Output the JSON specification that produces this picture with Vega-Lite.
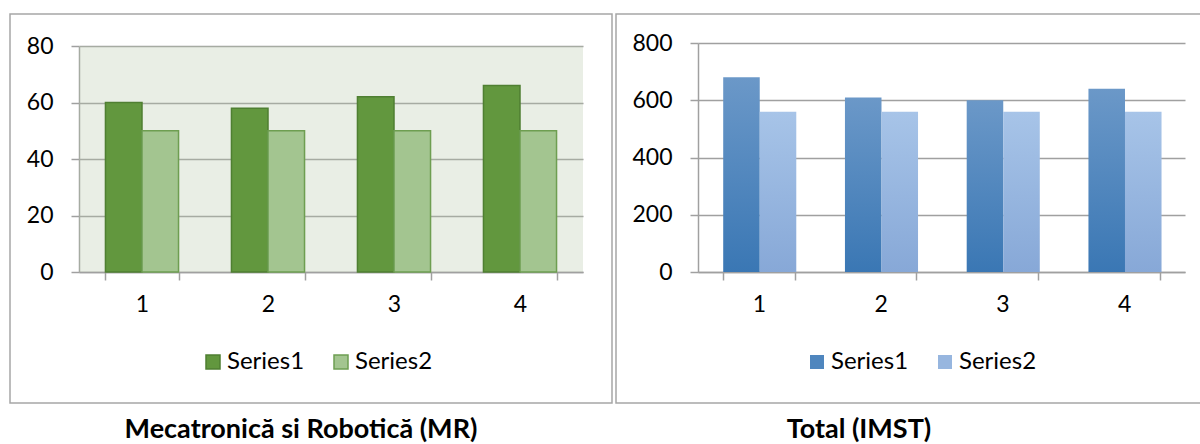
{
  "$schema": "https://vega.github.io/schema/vega-lite/v6.json",
  "padding": {"left": 9, "top": 13, "right": 0, "bottom": 0},
  "background": "white",
  "spacing": 2,
  "config": {
    "font": "Lato",
    "view": {"stroke": "#a6a6a6", "strokeWidth": 1.5},
    "axis": {
      "labelFont": "Lato", "labelFontSize": 23, "labelColor": "#000000",
      "domainColor": "#a0a0a0", "domainWidth": 1.5,
      "tickColor": "#a0a0a0", "tickWidth": 1.5, "tickSize": 8,
      "gridColor": "#a0a0a0", "gridWidth": 1.5
    },
    "legend": {
      "labelFont": "Lato", "labelFontSize": 24, "labelColor": "#000000",
      "symbolType": "square", "symbolSize": 196, "columnPadding": 24, "labelOffset": 2
    },
    "title": {"font": "Lato", "fontSize": 27, "fontWeight": "bold", "color": "#000000", "offset": 14, "anchor": "middle"}
  },
  "datasets": {
    "mr": [
      {"cat": "1", "series": "Series1", "value": 60},
      {"cat": "1", "series": "Series2", "value": 50},
      {"cat": "2", "series": "Series1", "value": 58},
      {"cat": "2", "series": "Series2", "value": 50},
      {"cat": "3", "series": "Series1", "value": 62},
      {"cat": "3", "series": "Series2", "value": 50},
      {"cat": "4", "series": "Series1", "value": 66},
      {"cat": "4", "series": "Series2", "value": 50}
    ],
    "imst": [
      {"cat": "1", "series": "Series1", "value": 680},
      {"cat": "1", "series": "Series2", "value": 560},
      {"cat": "2", "series": "Series1", "value": 610},
      {"cat": "2", "series": "Series2", "value": 560},
      {"cat": "3", "series": "Series1", "value": 600},
      {"cat": "3", "series": "Series2", "value": 560},
      {"cat": "4", "series": "Series1", "value": 640},
      {"cat": "4", "series": "Series2", "value": 560}
    ]
  },
  "resolve": {"scale": {"color": "independent", "stroke": "independent"}, "legend": {"color": "independent", "stroke": "independent"}},
  "hconcat": [
    {
      "width": 602, "height": 389,
      "data": {"name": "mr"},
      "title": {"text": "Mecatronică si Robotică (MR)", "orient": "bottom", "dx": -10},
      "encoding": {
        "x": {"field": "cat", "type": "nominal",
              "scale": {"range": [69, 573], "paddingInner": 0.42, "paddingOuter": 0.21},
              "axis": {"title": null, "labelAngle": 0, "offset": -131, "tickBand": "extent", "labelPadding": 13, "grid": false}},
        "y": {"field": "value", "type": "quantitative",
              "scale": {"domain": [0, 80], "range": [258, 32], "nice": false},
              "axis": {"title": null, "values": [0, 20, 40, 60, 80], "offset": -69, "labelPadding": 18, "grid": true}}
      },
      "layer": [
        {
          "transform": [{"filter": "datum.series === 'Series1'"}],
          "mark": {"type": "bar", "width": {"band": 1.7241}, "fill": "#b6c6a8", "fillOpacity": 0.3},
          "encoding": {"y": {"datum": 80}, "y2": {"datum": 0}}
        },
        {
          "mark": {"type": "bar", "strokeWidth": 1.5},
          "encoding": {
            "xOffset": {"field": "series", "type": "nominal"},
            "color": {"field": "series", "type": "nominal", "scale": {"range": ["#62973e", "#a3c590"]},
                      "legend": {"orient": "none", "legendX": 191, "legendY": 336, "direction": "horizontal", "title": null}},
            "stroke": {"field": "series", "type": "nominal", "scale": {"range": ["#4f7f32", "#6e9e51"]},
                       "legend": {"orient": "none", "legendX": 191, "legendY": 336, "direction": "horizontal", "title": null}}
          }
        }
      ]
    },
    {
      "width": 586, "height": 389,
      "data": {"name": "imst"},
      "title": {"text": "Total (IMST)", "orient": "bottom", "dx": -50},
      "encoding": {
        "x": {"field": "cat", "type": "nominal",
              "scale": {"range": [82, 569], "paddingInner": 0.414, "paddingOuter": 0.207},
              "axis": {"title": null, "labelAngle": 0, "offset": -131, "tickBand": "extent", "labelPadding": 13, "grid": false}},
        "y": {"field": "value", "type": "quantitative",
              "scale": {"domain": [0, 800], "range": [258, 29], "nice": false},
              "axis": {"title": null, "values": [0, 200, 400, 600, 800], "offset": -82, "labelPadding": 18, "grid": true}},
        "xOffset": {"field": "series", "type": "nominal"}
      },
      "layer": [
        {
          "mark": {"type": "bar"},
          "encoding": {
            "fill": {
              "condition": {"test": "datum.series === 'Series1'",
                "value": {"gradient": "linear", "x1": 0, "y1": 0, "x2": 0, "y2": 1, "stops": [{"offset": 0, "color": "#6b98c8"}, {"offset": 1, "color": "#3a77b4"}]}},
              "value": {"gradient": "linear", "x1": 0, "y1": 0, "x2": 0, "y2": 1, "stops": [{"offset": 0, "color": "#a7c4e8"}, {"offset": 1, "color": "#87a8d7"}]}
            }
          }
        },
        {
          "mark": {"type": "bar"},
          "encoding": {
            "y": {"datum": 0},
            "y2": {"datum": 0},
            "color": {"field": "series", "type": "nominal",
                      "scale": {"range": ["#4f86be", "#97b6df"]},
                      "legend": {"orient": "none", "legendX": 189, "legendY": 336, "direction": "horizontal", "title": null}}
          }
        }
      ]
    }
  ]
}
